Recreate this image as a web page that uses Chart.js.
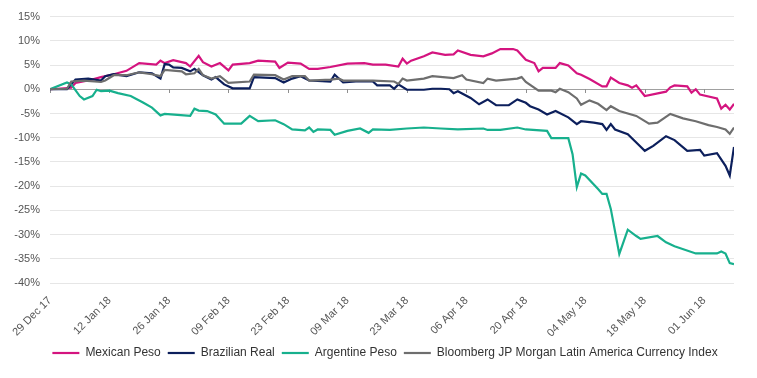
<!DOCTYPE html>
<html>
<head>
<meta charset="utf-8">
<script src="https://cdn.jsdelivr.net/npm/chart.js@4.4.1/dist/chart.umd.min.js"></script>
<style>
  html, body { margin: 0; padding: 0; background: #fff; }
</style>
</head>
<body>
<canvas id="chart" width="757" height="378"></canvas>
<script>
// day offsets counted from 29 Dec 2017, values in %
const START = Date.UTC(2017, 11, 29);
const MONTHS = ['Jan','Feb','Mar','Apr','May','Jun','Jul','Aug','Sep','Oct','Nov','Dec'];

const seriesNames = ['Mexican Peso', 'Brazilian Real', 'Argentine Peso',
  'Bloomberg JP Morgan Latin America Currency Index'];
const seriesColors = ['#d4147f', '#0c1f5c', '#17b08d', '#6e6e6e'];

const mxDays = [0,5,6,9,12,15,18,21,25,26,27,29,32,33,35,36,38,40,42,43,47,49,53,54,56,59,61,63,66,70,74,76,79,82,83,84,85,88,90,93,95,96,99,102,104,106,109,110,112,114,115,116,119,120,122,124,125,127,130,131,132,134,136,137,138,140,145,146,147,150,151,152,153,157,158,159,160,161];
const mxVals = [0,0.3,1.3,1.8,2.5,3.1,3.8,5.4,5.1,5.9,5.4,6.0,5.4,4.7,6.9,5.6,4.7,5.4,3.9,5.1,5.4,5.9,5.7,4.4,5.5,5.3,4.2,4.2,4.6,5.3,5.4,5.1,5.1,4.7,6.3,5.3,5.9,6.8,7.6,7.1,7.2,8.0,7.1,6.8,7.4,8.3,8.3,8.0,6.1,5.4,3.7,4.4,4.4,5.4,4.9,3.3,3.0,2.1,0.6,0.6,2.4,1.3,0.8,0.3,0.8,-1.4,-0.5,0.4,0.8,0.6,-0.7,0,-1.1,-1.9,-4.0,-3.2,-4.2,-3.0];

const brDays = [0,4,6,9,12,13,15,18,21,24,26,27,28,29,31,33,34,36,38,39,41,43,47,48,53,55,57,59,61,66,67,69,72,76,77,80,81,82,84,88,90,92,94,95,96,99,101,103,105,108,110,112,113,115,117,119,122,124,125,128,130,131,132,133,136,138,140,142,145,147,150,153,154,157,159,160,161];
const brVals = [0,0,2.0,2.2,1.8,2.7,3.1,2.7,3.5,3.3,2.2,5.2,5.1,4.5,4.4,3.7,4.2,2.9,2.0,2.5,1.0,0.2,0.2,2.5,2.3,1.4,2.2,2.7,1.8,1.6,3.0,1.4,1.6,1.6,0.8,0.8,0.1,1.0,-0.1,-0.1,0.1,0.1,0,-0.8,-0.4,-1.8,-3.1,-2.1,-3.3,-3.3,-2.1,-2.8,-3.5,-4.2,-5.2,-4.5,-5.8,-7.2,-6.6,-6.9,-7.2,-8.4,-7.2,-8.3,-9.3,-11.0,-12.7,-11.7,-9.7,-10.5,-12.7,-12.5,-13.7,-13.2,-15.8,-17.8,-11.9];

const arDays = [0,4,5,7,8,10,11,12,14,16,19,22,24,26,27,30,33,34,35,37,39,41,45,47,49,53,55,57,60,61,62,63,66,67,70,73,75,76,80,84,88,92,96,102,103,106,110,112,117,118,122,123,124,125,126,129,130,131,132,134,136,138,139,143,145,147,152,157,158,159,160,161];
const arVals = [0,1.4,1.0,-1.4,-2.1,-1.4,-0.1,-0.4,-0.3,-0.8,-1.4,-2.8,-3.8,-5.4,-5.1,-5.3,-5.5,-4.0,-4.4,-4.5,-5.2,-7.1,-7.1,-5.5,-6.6,-6.4,-7.2,-8.3,-8.5,-7.9,-8.8,-8.3,-8.4,-9.4,-8.6,-8.1,-9.0,-8.3,-8.4,-8.1,-7.9,-8.1,-8.3,-8.1,-8.4,-8.4,-7.9,-8.3,-8.6,-10.1,-10.1,-13.4,-20.2,-17.4,-17.8,-20.6,-21.6,-21.6,-24.7,-34.0,-29.0,-30.3,-30.9,-30.3,-31.6,-32.4,-33.9,-33.9,-33.5,-33.9,-35.9,-36.1];

const bbDays = [0,4,5,8,12,13,15,18,21,24,26,27,31,32,34,35,36,38,40,42,47,48,53,55,57,60,61,66,68,69,76,81,82,83,84,88,90,95,97,98,102,103,105,110,111,112,115,118,119,120,122,124,125,127,129,131,132,134,138,141,143,146,149,152,155,157,159,160,161];
const bbVals = [0,0.1,1.6,1.8,1.5,1.8,2.9,2.9,3.5,3.1,2.7,4.0,3.7,3.1,3.3,4.2,2.9,2.2,2.7,1.3,1.6,3.0,2.9,2.0,2.7,2.7,1.8,2.0,2.2,1.8,1.8,1.6,1.1,2.2,1.8,2.2,2.7,2.3,2.9,2.0,1.3,2.2,1.8,2.2,2.5,1.5,-0.3,-0.3,-0.6,0.1,-0.6,-1.9,-3.2,-2.3,-3.0,-4.3,-3.5,-4.5,-5.5,-7.1,-6.9,-5.1,-6.0,-6.6,-7.4,-7.8,-8.3,-9.2,-7.9];

const seriesDays = [mxDays, brDays, arDays, bbDays];
const seriesVals = [mxVals, brVals, arVals, bbVals];

// tick label for a day offset, e.g. "12 Jan 18"
function dayLabel(d) {
  const dt = new Date(START + d * 86400000);
  const dd = String(dt.getUTCDate()).padStart(2, '0');
  return dd + ' ' + MONTHS[dt.getUTCMonth()] + ' ' + String(dt.getUTCFullYear()).slice(2);
}

// small tick marks hanging off the 0% line, legend nudged right
const zeroTicks = {
  id: 'zeroTicks',
  afterLayout(chart) {
    chart.legend.left += 18;
    chart.legend.right += 18;
  },
  beforeDatasetsDraw(chart) {
    const { ctx, scales: { x, y } } = chart;
    const y0 = Math.round(y.getPixelForValue(0));
    ctx.save();
    ctx.strokeStyle = '#8f8f8f';
    ctx.lineWidth = 1;
    x.ticks.forEach(t => {
      const px = Math.round(x.getPixelForValue(t.value)) + 0.5;
      ctx.beginPath();
      ctx.moveTo(px, y0);
      ctx.lineTo(px, y0 + 4);
      ctx.stroke();
    });
    ctx.restore();
  }
};

Chart.defaults.font.family = '"Liberation Sans", Arial, sans-serif';
Chart.defaults.color = '#555555';

const datasets = seriesNames.map((name, i) => ({
  label: name,
  data: seriesDays[i].map((d, j) => ({ x: d, y: seriesVals[i][j] })),
  borderColor: seriesColors[i],
  backgroundColor: seriesColors[i],
  borderWidth: 2.2,
  pointRadius: 0,
  pointStyle: 'line',
  tension: 0,
  order: 4 - i
}));

new Chart(document.getElementById('chart'), {
  type: 'line',
  data: { datasets },
  plugins: [zeroTicks],
  options: {
    responsive: false,
    animation: false,
    layout: { padding: { top: 15, right: 23, left: 0, bottom: 9 } },
    plugins: {
      tooltip: { enabled: false },
      legend: {
        position: 'bottom',
        labels: {
          usePointStyle: true,
          pointStyleWidth: 27,
          padding: 7,
          color: '#333333',
          font: { size: 12 },
          sort: (a, b) => a.datasetIndex - b.datasetIndex
        }
      }
    },
    scales: {
      x: {
        type: 'linear',
        min: 0,
        max: 161,
        grid: { display: false },
        border: { display: false },
        ticks: {
          stepSize: 14,
          includeBounds: false,
          autoSkip: false,
          minRotation: 45,
          maxRotation: 45,
          padding: 3,
          font: { size: 11 },
          callback: v => dayLabel(v)
        },
        afterFit: s => { s.height = 57; }
      },
      y: {
        min: -40,
        max: 15,
        grid: {
          drawTicks: false,
          color: c => c.tick && c.tick.value === 0 ? '#a0a0a0' : '#e6e6e6',
          lineWidth: 1
        },
        border: { display: false },
        ticks: {
          stepSize: 5,
          padding: 10,
          font: { size: 11 },
          callback: v => v + '%'
        },
        afterFit: s => { s.width = 50; }
      }
    }
  }
});
</script>
</body>
</html>
